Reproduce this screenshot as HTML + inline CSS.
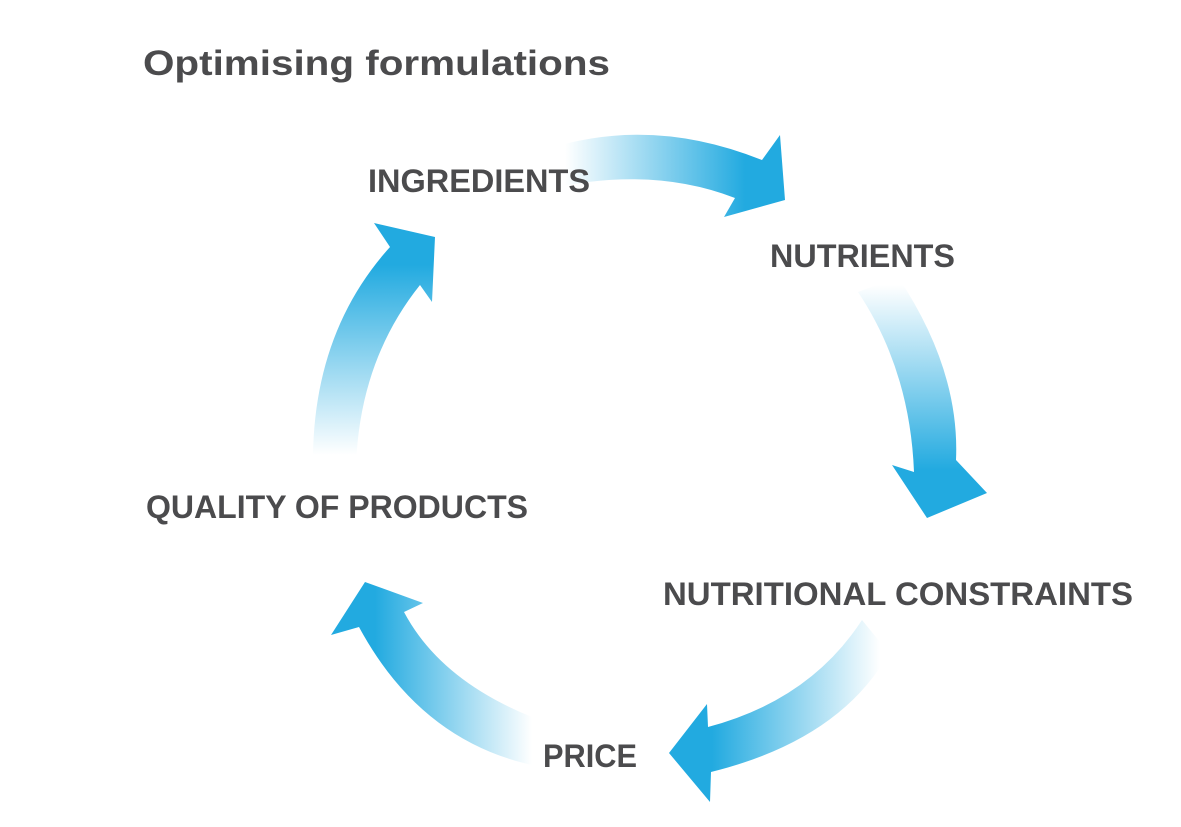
<!DOCTYPE html>
<html><head><meta charset="utf-8"><style>
html,body{margin:0;padding:0;background:#fff;}
svg{display:block;}
text{font-family:"Liberation Sans",sans-serif;font-weight:bold;fill:#4b4b4d;}
</style></head><body>
<svg width="1181" height="827" viewBox="0 0 1181 827" xmlns="http://www.w3.org/2000/svg">
<defs>
<linearGradient id="gTop" gradientUnits="userSpaceOnUse" x1="565" y1="0" x2="745" y2="0">
<stop offset="0" stop-color="#22aae0" stop-opacity="0"/><stop offset="1" stop-color="#22aae0"/></linearGradient>
<linearGradient id="gLeft" gradientUnits="userSpaceOnUse" x1="0" y1="455" x2="0" y2="265">
<stop offset="0" stop-color="#22aae0" stop-opacity="0"/><stop offset="1" stop-color="#22aae0"/></linearGradient>
<linearGradient id="gRight" gradientUnits="userSpaceOnUse" x1="0" y1="285" x2="0" y2="470">
<stop offset="0" stop-color="#22aae0" stop-opacity="0"/><stop offset="1" stop-color="#22aae0"/></linearGradient>
<linearGradient id="gBR" gradientUnits="userSpaceOnUse" x1="880" y1="0" x2="712" y2="0">
<stop offset="0" stop-color="#22aae0" stop-opacity="0"/><stop offset="1" stop-color="#22aae0"/></linearGradient>
<linearGradient id="gBL" gradientUnits="userSpaceOnUse" x1="532" y1="0" x2="375" y2="0">
<stop offset="0" stop-color="#22aae0" stop-opacity="0"/><stop offset="1" stop-color="#22aae0"/></linearGradient>
</defs>
<path d="M544,150 Q650,115 762,160 L780,135 L785,200 L724,217 L735,198 Q650,165 544,190 Z" fill="url(#gTop)"/>
<path d="M313,455 Q315,330 390,247 L374,223 L435,237 L432,302 L420,285 Q360,360 356,465 Z" fill="url(#gLeft)"/>
<path d="M898,277 Q960,370 956,460 L987,493 L927,518 L892,465 L914,472 Q910,370 858,292 Z" fill="url(#gRight)"/>
<path d="M862,620 Q810,700 708,727 L707,704 L669,753 L710,802 L711,772 Q840,740 889,653 Z" fill="url(#gBR)"/>
<path d="M532,717 Q440,680 404,612 L423,603 L365,582 L331,635 L359,627 Q420,740 532,765 Z" fill="url(#gBL)"/>
<text x="143" y="75" font-size="35" textLength="467" lengthAdjust="spacingAndGlyphs">Optimising formulations</text>
<text x="368" y="192" font-size="32" textLength="222" lengthAdjust="spacingAndGlyphs">INGREDIENTS</text>
<text x="770" y="267" font-size="32" textLength="185" lengthAdjust="spacingAndGlyphs">NUTRIENTS</text>
<text x="146" y="518" font-size="32" textLength="382" lengthAdjust="spacingAndGlyphs">QUALITY OF PRODUCTS</text>
<text x="663" y="605" font-size="32" textLength="470" lengthAdjust="spacingAndGlyphs">NUTRITIONAL CONSTRAINTS</text>
<text x="543" y="767" font-size="32" textLength="94" lengthAdjust="spacingAndGlyphs">PRICE</text>
</svg>
</body></html>
